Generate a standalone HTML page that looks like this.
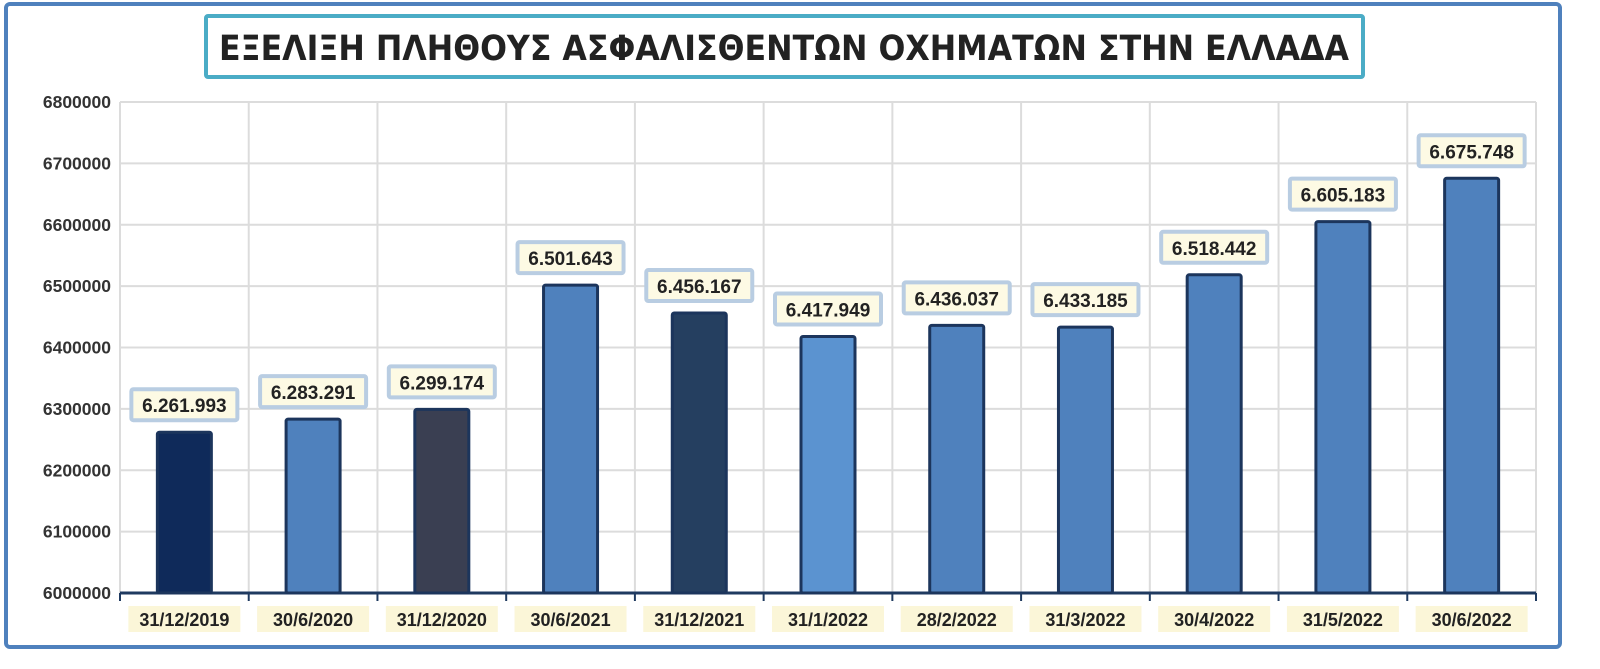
<!DOCTYPE html>
<html><head><meta charset="utf-8"><style>
body{margin:0;background:#fff;width:1600px;height:664px;overflow:hidden;font-family:"Liberation Sans","DejaVu Sans",sans-serif}
</style></head><body>
<svg id="chart" width="1600" height="664" xmlns="http://www.w3.org/2000/svg">
<rect x="6" y="4" width="1554" height="643" rx="4" fill="#fff" stroke="#4f81bd" stroke-width="4"/>
<rect x="206" y="16" width="1157" height="61" rx="2" fill="#fff" stroke="#4bacc6" stroke-width="4"/>
<text x="784" y="60" text-anchor="middle" font-size="35" font-weight="bold" fill="#222" font-family="DejaVu Sans Condensed, DejaVu Sans, sans-serif" textLength="1130" lengthAdjust="spacingAndGlyphs">ΕΞΕΛΙΞΗ ΠΛΗΘΟΥΣ ΑΣΦΑΛΙΣΘΕΝΤΩΝ ΟΧΗΜΑΤΩΝ ΣΤΗΝ ΕΛΛΑΔΑ</text>
<g id="grid"></g><g id="bars"></g><g id="labels"></g>
</svg>
<script>
const categories=["31/12/2019","30/6/2020","31/12/2020","30/6/2021","31/12/2021","31/1/2022","28/2/2022","31/3/2022","30/4/2022","31/5/2022","30/6/2022"];
const values=[6261993,6283291,6299174,6501643,6456167,6417949,6436037,6433185,6518442,6605183,6675748];
const valueLabels=["6.261.993","6.283.291","6.299.174","6.501.643","6.456.167","6.417.949","6.436.037","6.433.185","6.518.442","6.605.183","6.675.748"];
const barColors=["#0f2a5a","#4f81bd","#3a3f52","#4f81bd","#253f60","#5b93d0","#4f81bd","#4f81bd","#4f81bd","#4f81bd","#4f81bd"];
const yTicks=[6000000,6100000,6200000,6300000,6400000,6500000,6600000,6700000,6800000];
const NS="http://www.w3.org/2000/svg";
const L=120,R=1536,T=102,B=593,ymin=6000000,ymax=6800000;
const cw=(R-L)/categories.length;
const y=v=>B-(v-ymin)/(ymax-ymin)*(B-T);
const x=i=>L+cw*i;
function mk(tag,attrs,parent){const e=document.createElementNS(NS,tag);for(const k in attrs)e.setAttribute(k,attrs[k]);document.getElementById(parent).appendChild(e);return e;}
yTicks.forEach(t=>{
 const g=mk('line',{x1:L,x2:R,y1:y(t),y2:y(t),stroke:'#dcdcdc','stroke-width':2},'grid');
 
 
 const tx=mk('text',{x:111,y:y(t)+6,'text-anchor':'end','font-size':17.5,'font-weight':'bold',fill:'#333'},'grid');
 tx.textContent=t;
 
 
});
for(let i=0;i<=categories.length;i++){
 const v=mk('line',{x1:x(i),x2:x(i),y1:T,y2:B,stroke:'#dcdcdc','stroke-width':2},'grid');
 
 
 const tk=mk('line',{x1:x(i),x2:x(i),y1:B,y2:B+8,stroke:'#1f3a60','stroke-width':2},'grid');
 
 
}
const ax=mk('line',{x1:L,x2:R,y1:B,y2:B,stroke:'#1f3a60','stroke-width':3},'grid');


categories.forEach((c,i)=>{
 const cx=x(i)+cw/2,bw=54,top=y(values[i]);
 const b=mk('rect',{x:cx-bw/2,y:top,width:bw,height:B-top,fill:barColors[i],stroke:'#1c355c','stroke-width':3,rx:2},'bars');
 
 
 const lb=mk('rect',{x:cx-53,y:top-43,width:106,height:31,fill:'#fdfae4',stroke:'#b9cde2','stroke-width':4,rx:2},'labels');
 
 
 const lt=mk('text',{x:cx,y:top-20,'text-anchor':'middle','font-size':19,'font-weight':'bold',fill:'#222'},'labels');
 lt.textContent=valueLabels[i];
 
 
 const hb=mk('rect',{x:cx-56,y:B+13,width:112,height:26,fill:'#fbf6d8'},'labels');
 
 
 const xt=mk('text',{x:cx,y:B+33,'text-anchor':'middle','font-size':18,'font-weight':'bold',fill:'#222'},'labels');
 xt.textContent=c;
 
 
});
</script>
</body></html>
